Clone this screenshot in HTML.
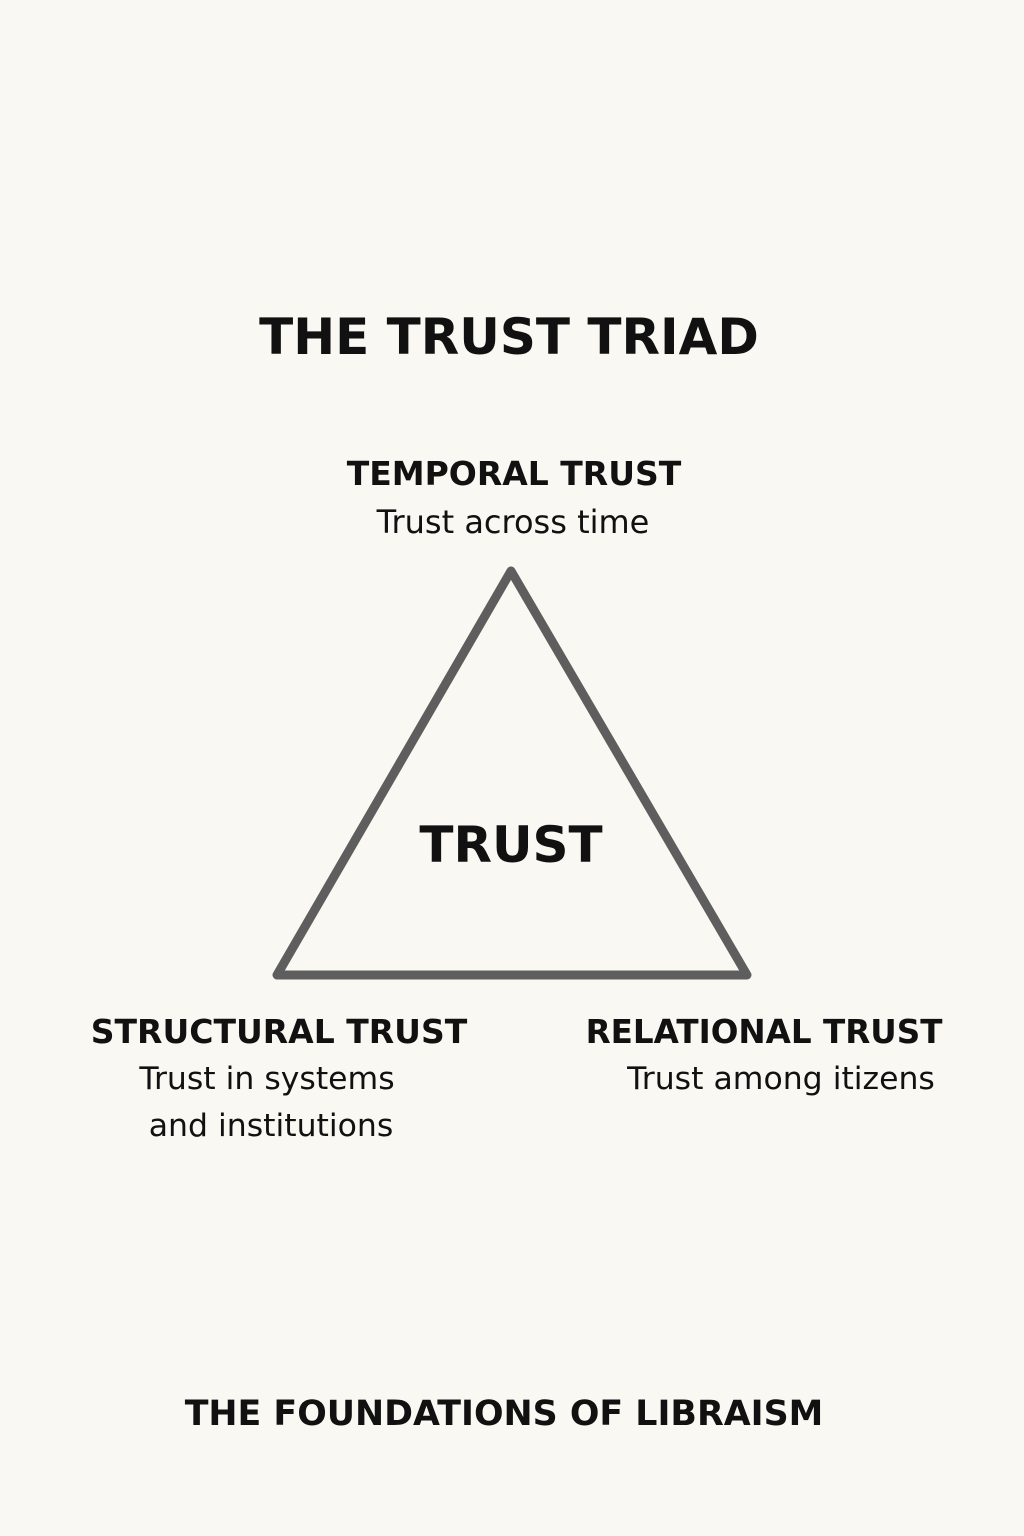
<!DOCTYPE html>
<html><head><meta charset="utf-8"><style>
html,body{margin:0;padding:0;background:#faf8f2;}
body{width:1024px;height:1536px;position:relative;overflow:hidden;font-family:"DejaVu Sans","Liberation Sans",sans-serif;color:#111;}
.t{position:absolute;white-space:nowrap;text-align:center;transform:translateX(-50%);}
.b{font-weight:bold;}
</style></head><body>
<div class="t b" style="left:509px;top:307px;font-size:50px;line-height:60px;">THE TRUST TRIAD</div>
<div class="t b" style="left:514px;top:455px;font-size:33px;line-height:38px;">TEMPORAL TRUST</div>
<div class="t" style="left:513px;top:503px;font-size:32px;line-height:38px;">Trust across time</div>
<svg style="position:absolute;left:0;top:0" width="1024" height="1536">
<polygon points="511,571 277,975 747,975" fill="none" stroke="#5e5e5e" stroke-width="9" stroke-linejoin="round"/>
</svg>
<div class="t b" style="left:511px;top:815px;font-size:50px;line-height:60px;">TRUST</div>
<div class="t b" style="left:279px;top:1013px;font-size:33px;line-height:38px;">STRUCTURAL TRUST</div>
<div class="t" style="left:267px;top:1060px;font-size:31.5px;line-height:38px;">Trust in systems</div>
<div class="t" style="left:271px;top:1107px;font-size:31.5px;line-height:38px;">and institutions</div>
<div class="t b" style="left:764px;top:1013px;font-size:32.6px;line-height:38px;">RELATIONAL TRUST</div>
<div class="t" style="left:781px;top:1060px;font-size:31.5px;line-height:38px;">Trust among itizens</div>
<div class="t b" style="left:504px;top:1394px;font-size:34.8px;line-height:40px;">THE FOUNDATIONS OF LIBRAISM</div>
</body></html>
